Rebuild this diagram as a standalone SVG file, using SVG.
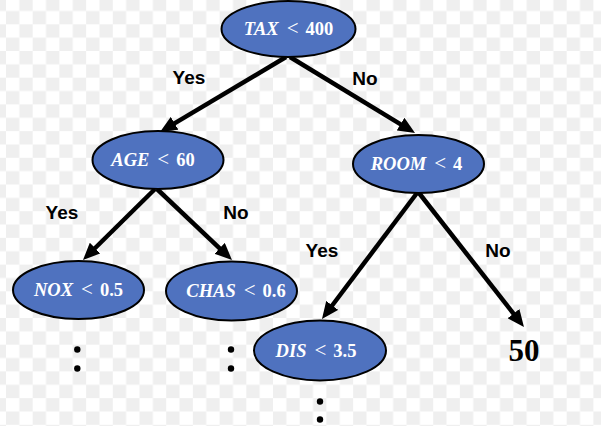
<svg xmlns="http://www.w3.org/2000/svg" width="601" height="426" viewBox="0 0 601 426">
<defs>
<pattern id="checker" patternUnits="userSpaceOnUse" x="6" y="-2.4" width="26.7" height="26.7">
<rect x="0" y="0" width="26.7" height="26.7" fill="#ffffff"/>
<rect x="13.35" y="0" width="13.35" height="13.35" fill="#efefef"/>
<rect x="0" y="13.35" width="13.35" height="13.35" fill="#efefef"/>
</pattern>
<marker id="arrow" markerUnits="userSpaceOnUse" markerWidth="17" markerHeight="15" refX="7" refY="7.5" orient="auto">
<path d="M0,0 L17,7.5 L0,15 z" fill="#000"/>
</marker>
<style>
.node ellipse { fill: #4f72bf; stroke: #000; stroke-width: 2; }
.node text { font-family: "Liberation Serif", "DejaVu Serif", serif; font-weight: bold; font-size: 18.5px; fill: #ffffff; text-anchor: middle; }
.node .v { font-style: italic; }
.node .op { font-size: 21px; font-weight: normal; }
.edge { stroke: #000; stroke-width: 4.5; fill: none; marker-end: url(#arrow); }
.lbl { font-family: "Liberation Sans", Arial, sans-serif; font-weight: bold; font-size: 19px; fill: #000; text-anchor: middle; }
.dot { fill: #000; }
</style>
</defs>
<rect x="0" y="0" width="601" height="426" fill="url(#checker)"/>

<g id="connectors">
<line class="edge" x1="286" y1="57" x2="168.6" y2="126.9"/>
<line class="edge" x1="290" y1="57" x2="406.5" y2="127.8"/>
<line class="edge" x1="155" y1="189" x2="90.1" y2="253"/>
<line class="edge" x1="157" y1="189" x2="224.7" y2="253.1"/>
<line class="edge" x1="417" y1="193" x2="328" y2="311"/>
<line class="edge" x1="419" y1="193" x2="517.8" y2="319.1"/>
<text class="lbl" x="189" y="84">Yes</text>
<text class="lbl" x="365" y="85">No</text>
<text class="lbl" x="62" y="219">Yes</text>
<text class="lbl" x="236" y="219">No</text>
<text class="lbl" x="322" y="257">Yes</text>
<text class="lbl" x="498" y="257">No</text>
</g>

<g id="node-tax" class="node">
<ellipse cx="288.5" cy="29" rx="67" ry="28"/>
<text x="288.5" y="35"><tspan class="v">TAX</tspan><tspan class="op" dx="8">&lt;</tspan><tspan dx="7">400</tspan></text>
</g>
<g id="node-age" class="node">
<ellipse cx="158" cy="160" rx="65.5" ry="29"/>
<text x="153" y="166"><tspan class="v">AGE</tspan><tspan class="op" dx="8">&lt;</tspan><tspan dx="7">60</tspan></text>
</g>
<g id="node-room" class="node">
<ellipse cx="418.5" cy="164" rx="65.5" ry="29"/>
<text x="416.5" y="170"><tspan class="v">ROOM</tspan><tspan class="op" dx="8">&lt;</tspan><tspan dx="7">4</tspan></text>
</g>
<g id="node-nox" class="node">
<ellipse cx="78.5" cy="290" rx="65.5" ry="29"/>
<text x="78.5" y="296"><tspan class="v">NOX</tspan><tspan class="op" dx="8">&lt;</tspan><tspan dx="7">0.5</tspan></text>
</g>
<g id="node-chas" class="node">
<ellipse cx="231.5" cy="291" rx="65.5" ry="29.5"/>
<text x="236" y="297"><tspan class="v">CHAS</tspan><tspan class="op" dx="8">&lt;</tspan><tspan dx="7">0.6</tspan></text>
</g>
<g id="node-dis" class="node">
<ellipse cx="320" cy="350.5" rx="66" ry="30"/>
<text x="316" y="356.5"><tspan class="v">DIS</tspan><tspan class="op" dx="8">&lt;</tspan><tspan dx="7">3.5</tspan></text>
</g>
<g id="leaf-50">
<text x="524" y="361" font-family="Liberation Serif, DejaVu Serif, serif" font-weight="bold" font-size="31" text-anchor="middle" fill="#000">50</text>
</g>
<g id="more-nox">
<circle class="dot" cx="77.3" cy="349.5" r="3.2"/>
<circle class="dot" cx="77.3" cy="368.5" r="3.2"/>
</g>
<g id="more-chas">
<circle class="dot" cx="231" cy="349.5" r="3.2"/>
<circle class="dot" cx="231" cy="368.5" r="3.2"/>
</g>
<g id="more-dis">
<circle class="dot" cx="320" cy="401.5" r="3.2"/>
<circle class="dot" cx="320" cy="419.5" r="3.2"/>
</g>
</svg>
